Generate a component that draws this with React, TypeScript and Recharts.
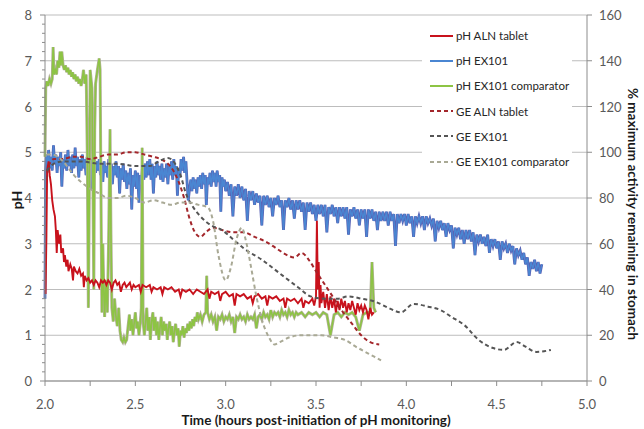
import { LineChart, Line, XAxis, YAxis, CartesianGrid, Legend, Label } from 'recharts';

type Pt = [number, number];

// hours post-initiation, pH
const phAlnTablet: Pt[] = [
  [2.003, 1.9], [2.008, 3.2], [2.012, 4.6], [2.02, 4.8], [2.026, 4.5], [2.033, 4.3], [2.04, 3.95],
  [2.047, 3.75], [2.055, 3.6], [2.06, 3.3], [2.065, 2.8], [2.07, 3.3], [2.078, 3.0], [2.085, 3.2],
  [2.09, 2.8], [2.1, 2.9], [2.105, 2.6], [2.11, 2.75], [2.118, 2.5], [2.125, 2.65], [2.13, 2.4],
  [2.14, 2.55], [2.148, 2.45], [2.155, 2.2], [2.16, 2.5], [2.17, 2.4], [2.18, 2.35], [2.19, 2.45],
  [2.2, 2.3], [2.21, 2.35], [2.215, 2.05], [2.22, 2.3], [2.23, 2.2], [2.24, 2.25], [2.25, 2.15],
  [2.26, 2.2], [2.27, 2.1], [2.28, 2.2], [2.29, 2.15], [2.3, 2.05], [2.31, 2.2], [2.32, 2.15],
  [2.33, 2.2], [2.34, 2.1], [2.35, 2.2], [2.36, 2.15], [2.37, 2.0], [2.38, 2.15], [2.39, 2.2],
  [2.4, 2.1], [2.41, 2.15], [2.42, 1.95], [2.43, 2.1], [2.44, 2.15], [2.45, 2.05], [2.46, 2.1],
  [2.47, 2.15], [2.48, 2.0], [2.49, 2.1], [2.5, 2.05], [2.52, 2.1], [2.53, 1.95], [2.54, 2.1],
  [2.56, 2.05], [2.58, 2.1], [2.59, 1.95], [2.6, 2.05], [2.62, 2.0], [2.64, 2.05], [2.65, 1.9],
  [2.66, 2.05], [2.68, 2.0], [2.7, 2.05], [2.72, 1.95], [2.74, 2.0], [2.75, 1.85], [2.76, 2.0],
  [2.78, 1.95], [2.8, 2.0], [2.82, 1.9], [2.84, 2.0], [2.86, 1.95], [2.88, 1.9], [2.9, 2.0],
  [2.91, 1.8], [2.92, 1.95], [2.94, 1.9], [2.96, 1.95], [2.97, 1.75], [2.98, 1.9], [3.0, 1.95],
  [3.02, 1.85], [3.04, 1.9], [3.05, 1.65], [3.06, 1.9], [3.08, 1.85], [3.1, 1.9], [3.12, 1.8],
  [3.14, 1.85], [3.15, 1.7], [3.16, 1.85], [3.18, 1.9], [3.2, 1.8], [3.22, 1.85], [3.23, 1.65],
  [3.24, 1.85], [3.26, 1.8], [3.28, 1.85], [3.3, 1.75], [3.32, 1.8], [3.33, 1.6], [3.34, 1.8],
  [3.36, 1.75], [3.38, 1.8], [3.4, 1.7], [3.42, 1.8], [3.43, 1.6], [3.44, 1.75], [3.46, 1.7],
  [3.48, 1.8], [3.49, 1.65], [3.5, 1.85], [3.505, 3.5], [3.51, 2.0], [3.515, 2.6], [3.52, 1.6],
  [3.525, 2.1], [3.53, 1.7], [3.54, 1.95], [3.55, 1.6], [3.56, 1.9], [3.57, 1.55], [3.58, 1.85],
  [3.59, 1.6], [3.6, 1.8], [3.61, 1.5], [3.62, 1.75], [3.63, 1.55], [3.64, 1.8], [3.65, 1.6],
  [3.66, 1.75], [3.67, 1.5], [3.68, 1.7], [3.69, 1.55], [3.7, 1.75], [3.71, 1.6], [3.72, 1.45],
  [3.73, 1.7], [3.74, 1.55], [3.75, 1.65], [3.76, 1.5], [3.77, 1.65], [3.78, 1.55], [3.79, 1.35],
  [3.8, 1.6], [3.81, 1.45], [3.82, 1.5],
];

const phEx101: Pt[] = [
  [2.0, 1.8], [2.003, 4.6], [2.008, 4.95], [2.015, 4.7], [2.02, 5.05], [2.027, 4.65], [2.033, 4.9],
  [2.04, 4.6], [2.047, 5.15], [2.053, 4.75], [2.06, 4.95], [2.067, 4.55], [2.073, 4.9], [2.08, 4.7],
  [2.087, 5.0], [2.093, 4.25], [2.1, 4.85], [2.107, 4.65], [2.113, 4.95], [2.12, 4.6], [2.127, 5.05],
  [2.133, 4.7], [2.14, 4.9], [2.147, 4.55], [2.153, 4.95], [2.16, 4.65], [2.167, 5.1], [2.173, 4.7],
  [2.18, 4.9], [2.187, 4.45], [2.193, 4.85], [2.2, 4.6], [2.207, 4.95], [2.213, 4.65], [2.22, 4.85],
  [2.227, 4.5], [2.233, 4.9], [2.24, 4.6], [2.247, 4.8], [2.253, 4.2], [2.26, 4.85], [2.267, 4.65],
  [2.273, 4.95], [2.28, 4.55], [2.287, 4.8], [2.293, 4.6], [2.3, 4.85], [2.307, 4.5], [2.313, 4.75],
  [2.32, 4.35], [2.327, 4.8], [2.333, 4.55], [2.34, 4.7], [2.347, 4.45], [2.353, 4.85], [2.36, 4.55],
  [2.367, 4.75], [2.373, 4.3], [2.38, 4.7], [2.387, 4.5], [2.393, 4.8], [2.4, 4.45], [2.407, 4.7],
  [2.413, 4.1], [2.42, 4.65], [2.427, 4.4], [2.433, 4.75], [2.44, 4.35], [2.447, 4.6], [2.453, 4.2],
  [2.46, 4.55], [2.467, 4.3], [2.473, 4.65], [2.48, 3.75], [2.487, 4.5], [2.493, 4.25], [2.5, 4.6],
  [2.507, 4.2], [2.513, 4.55], [2.52, 3.9], [2.527, 4.5], [2.533, 4.3], [2.54, 4.7], [2.547, 4.4],
  [2.553, 4.75], [2.56, 4.45], [2.567, 4.8], [2.573, 4.5], [2.58, 4.85], [2.587, 4.4], [2.593, 4.75],
  [2.6, 4.1], [2.607, 4.7], [2.613, 4.45], [2.62, 4.8], [2.627, 4.5], [2.633, 4.7], [2.64, 4.4],
  [2.647, 4.75], [2.653, 4.35], [2.66, 4.65], [2.667, 4.45], [2.673, 4.75], [2.68, 4.3], [2.687, 4.7],
  [2.693, 4.5], [2.7, 4.8], [2.707, 4.4], [2.713, 4.85], [2.72, 4.5], [2.727, 4.7], [2.733, 4.05],
  [2.74, 4.65], [2.747, 4.45], [2.753, 4.85], [2.76, 4.6], [2.767, 4.9], [2.773, 4.55], [2.78, 4.8],
  [2.787, 4.3], [2.793, 3.95], [2.8, 4.2], [2.807, 4.4], [2.813, 4.15], [2.82, 4.45], [2.827, 4.2],
  [2.833, 4.4], [2.84, 4.1], [2.847, 4.45], [2.853, 4.25], [2.86, 4.5], [2.867, 4.2], [2.873, 4.55],
  [2.88, 4.3], [2.887, 4.5], [2.893, 3.85], [2.9, 4.45], [2.907, 4.3], [2.913, 4.55], [2.92, 4.25],
  [2.927, 4.6], [2.933, 4.35], [2.94, 4.55], [2.947, 4.25], [2.953, 4.6], [2.96, 4.35], [2.967, 4.5],
  [2.973, 3.7], [2.98, 4.45], [2.987, 4.25], [2.993, 4.4], [3.0, 4.15], [3.01, 4.35], [3.02, 4.05],
  [3.03, 4.3], [3.04, 3.6], [3.05, 4.25], [3.06, 4.05], [3.07, 4.3], [3.08, 4.0], [3.09, 4.25],
  [3.1, 3.95], [3.11, 4.2], [3.12, 3.5], [3.13, 4.15], [3.14, 3.95], [3.15, 4.15], [3.16, 3.85],
  [3.17, 4.1], [3.18, 3.9], [3.19, 4.05], [3.2, 3.4], [3.21, 4.05], [3.22, 3.85], [3.23, 4.05],
  [3.24, 3.8], [3.25, 4.0], [3.26, 3.6], [3.27, 4.0], [3.28, 3.85], [3.29, 4.05], [3.3, 3.8],
  [3.31, 3.95], [3.32, 3.3], [3.33, 3.95], [3.34, 3.8], [3.35, 4.0], [3.36, 3.75], [3.37, 3.95],
  [3.38, 3.55], [3.39, 3.95], [3.4, 3.75], [3.41, 3.95], [3.42, 3.7], [3.43, 3.9], [3.44, 3.3],
  [3.45, 3.9], [3.46, 3.7], [3.47, 3.9], [3.48, 3.65], [3.49, 3.85], [3.5, 3.5], [3.51, 3.85],
  [3.52, 3.65], [3.53, 3.85], [3.54, 3.6], [3.55, 3.85], [3.56, 3.25], [3.57, 3.8], [3.58, 3.65],
  [3.59, 3.85], [3.6, 3.6], [3.61, 3.8], [3.62, 3.45], [3.63, 3.8], [3.64, 3.6], [3.65, 3.8],
  [3.66, 3.55], [3.67, 3.8], [3.68, 3.2], [3.69, 3.75], [3.7, 3.6], [3.71, 3.8], [3.72, 3.55],
  [3.73, 3.75], [3.74, 3.4], [3.75, 3.75], [3.76, 3.55], [3.77, 3.75], [3.78, 3.15], [3.79, 3.75],
  [3.8, 3.55], [3.81, 3.75], [3.82, 3.5], [3.83, 3.7], [3.84, 3.3], [3.85, 3.7], [3.86, 3.5],
  [3.87, 3.7], [3.88, 3.5], [3.89, 3.7], [3.9, 3.4], [3.91, 3.7], [3.92, 3.5], [3.93, 3.65],
  [3.94, 2.95], [3.95, 3.65], [3.96, 3.45], [3.97, 3.65], [3.98, 3.5], [3.99, 3.65], [4.0, 3.4],
  [4.01, 3.65], [4.02, 3.45], [4.03, 3.6], [4.04, 3.15], [4.05, 3.6], [4.06, 3.45], [4.07, 3.6],
  [4.08, 3.45], [4.09, 3.6], [4.1, 3.3], [4.11, 3.6], [4.12, 3.45], [4.13, 3.55], [4.14, 3.4],
  [4.15, 3.55], [4.16, 3.05], [4.17, 3.5], [4.18, 3.35], [4.19, 3.5], [4.2, 3.3], [4.21, 3.45],
  [4.22, 3.15], [4.23, 3.45], [4.24, 3.3], [4.25, 3.4], [4.26, 2.9], [4.27, 3.35], [4.28, 3.2],
  [4.29, 3.35], [4.3, 3.1], [4.31, 3.3], [4.32, 3.0], [4.33, 3.3], [4.34, 3.1], [4.35, 3.3],
  [4.36, 3.05], [4.37, 3.25], [4.38, 2.75], [4.39, 3.2], [4.4, 3.05], [4.41, 3.2], [4.42, 3.0],
  [4.43, 3.15], [4.44, 2.95], [4.45, 3.2], [4.46, 2.8], [4.47, 3.1], [4.48, 2.95], [4.49, 3.1],
  [4.5, 2.9], [4.51, 3.05], [4.52, 2.65], [4.53, 3.05], [4.54, 2.9], [4.55, 3.0], [4.56, 2.8],
  [4.57, 3.0], [4.58, 2.85], [4.59, 2.95], [4.6, 2.55], [4.61, 2.9], [4.62, 2.75], [4.63, 2.85],
  [4.64, 2.65], [4.65, 2.8], [4.66, 2.55], [4.67, 2.7], [4.68, 2.3], [4.69, 2.6], [4.7, 2.45],
  [4.71, 2.65], [4.72, 2.4], [4.73, 2.6], [4.74, 2.35], [4.75, 2.55],
];

const phEx101Comparator: Pt[] = [
  [2.0, 4.9], [2.004, 6.4], [2.01, 6.55], [2.017, 6.45], [2.025, 6.6], [2.033, 6.5], [2.04, 6.6],
  [2.045, 7.3], [2.05, 6.7], [2.057, 6.8], [2.064, 6.7], [2.07, 7.0], [2.077, 6.85], [2.083, 7.2],
  [2.088, 6.9], [2.093, 7.2], [2.1, 6.9], [2.107, 6.8], [2.113, 6.9], [2.12, 6.75], [2.127, 6.85],
  [2.133, 6.7], [2.14, 6.8], [2.147, 6.65], [2.153, 6.75], [2.16, 6.6], [2.167, 6.7], [2.173, 6.55],
  [2.18, 6.65], [2.187, 6.5], [2.193, 6.6], [2.2, 6.45], [2.207, 6.6], [2.213, 6.8], [2.22, 6.5],
  [2.228, 6.7], [2.234, 5.0], [2.24, 1.6], [2.245, 4.0], [2.25, 6.8], [2.255, 6.6], [2.26, 6.4],
  [2.265, 4.5], [2.27, 2.0], [2.275, 5.5], [2.28, 6.5], [2.29, 6.8], [2.3, 7.05], [2.305, 6.8],
  [2.31, 4.0], [2.315, 1.5], [2.32, 3.0], [2.325, 2.0], [2.33, 1.4], [2.337, 2.2], [2.345, 1.5],
  [2.352, 3.0], [2.36, 5.5], [2.365, 3.2], [2.37, 1.6], [2.378, 1.3], [2.385, 1.8], [2.393, 1.4],
  [2.4, 1.2], [2.408, 1.6], [2.415, 1.1], [2.422, 0.9], [2.43, 0.85], [2.437, 0.95], [2.445, 0.85],
  [2.452, 0.9], [2.46, 1.2], [2.467, 1.45], [2.473, 1.1], [2.48, 1.35], [2.487, 1.0], [2.493, 1.25],
  [2.5, 1.5], [2.507, 1.15], [2.513, 1.3], [2.52, 1.0], [2.527, 1.25], [2.533, 1.6], [2.538, 5.1],
  [2.543, 1.3], [2.55, 1.0], [2.557, 1.3], [2.563, 1.6], [2.57, 1.1], [2.577, 1.4], [2.583, 0.9],
  [2.59, 1.3], [2.597, 1.5], [2.603, 1.1], [2.61, 1.4], [2.617, 1.0], [2.623, 1.3], [2.63, 0.9],
  [2.637, 1.2], [2.643, 1.4], [2.65, 1.0], [2.657, 1.3], [2.663, 1.1], [2.67, 1.25], [2.677, 0.9],
  [2.683, 1.15], [2.69, 1.3], [2.697, 1.0], [2.703, 1.2], [2.71, 0.85], [2.717, 1.1], [2.723, 1.25],
  [2.73, 1.0], [2.737, 1.15], [2.743, 0.75], [2.75, 1.1], [2.757, 1.0], [2.763, 1.2], [2.77, 0.95],
  [2.777, 1.15], [2.783, 1.05], [2.79, 1.25], [2.797, 1.1], [2.803, 1.3], [2.81, 1.15], [2.817, 1.35],
  [2.823, 1.2], [2.83, 1.4], [2.837, 1.3], [2.843, 1.5], [2.85, 1.35], [2.86, 1.45], [2.87, 1.3],
  [2.88, 1.45], [2.89, 1.5], [2.895, 2.3], [2.9, 1.5], [2.91, 1.35], [2.92, 1.45], [2.93, 1.3],
  [2.94, 1.4], [2.95, 1.1], [2.96, 1.4], [2.97, 1.35], [2.98, 1.45], [2.99, 1.3], [3.0, 1.4],
  [3.01, 1.35], [3.02, 1.45], [3.03, 1.3], [3.04, 1.4], [3.05, 1.05], [3.06, 1.4], [3.07, 1.35],
  [3.08, 1.45], [3.09, 1.35], [3.1, 1.4], [3.11, 1.3], [3.12, 1.45], [3.13, 1.35], [3.14, 1.4],
  [3.15, 1.35], [3.16, 1.45], [3.17, 1.15], [3.18, 1.4], [3.19, 1.45], [3.2, 1.35], [3.21, 1.5],
  [3.22, 1.4], [3.23, 1.45], [3.24, 1.35], [3.25, 1.55], [3.26, 1.4], [3.27, 1.5], [3.28, 1.45],
  [3.29, 1.5], [3.3, 1.4], [3.31, 1.55], [3.32, 1.45], [3.33, 1.5], [3.34, 1.4], [3.35, 1.55],
  [3.36, 1.45], [3.37, 1.5], [3.38, 1.4], [3.39, 1.5], [3.4, 1.45], [3.42, 1.5], [3.44, 1.4],
  [3.46, 1.5], [3.48, 1.45], [3.5, 1.5], [3.52, 1.4], [3.54, 1.5], [3.56, 1.45], [3.58, 1.0],
  [3.6, 1.45], [3.62, 1.5], [3.64, 1.4], [3.66, 1.5], [3.68, 1.45], [3.7, 1.5], [3.72, 1.4],
  [3.74, 1.1], [3.76, 1.45], [3.78, 1.5], [3.8, 1.5], [3.81, 2.6], [3.82, 1.6], [3.83, 1.5],
];

// hours post-initiation, % maximum activity remaining
const geAlnTablet: Pt[] = [
  [2.01, 88], [2.02, 94], [2.05, 97], [2.1, 97], [2.15, 98], [2.2, 98], [2.25, 97], [2.3, 98],
  [2.35, 99], [2.4, 99], [2.45, 100], [2.5, 100], [2.55, 99], [2.6, 98], [2.64, 97], [2.68, 95],
  [2.71, 92], [2.74, 87], [2.77, 80], [2.8, 71], [2.83, 65], [2.86, 63], [2.89, 65], [2.93, 67],
  [2.98, 66], [3.04, 65], [3.1, 65], [3.16, 63], [3.22, 61], [3.28, 58], [3.34, 55], [3.38, 54],
  [3.42, 56], [3.46, 53], [3.5, 48], [3.55, 42], [3.6, 36], [3.65, 30], [3.7, 25], [3.75, 20],
  [3.8, 17], [3.85, 16],
];

const geEx101: Pt[] = [
  [2.01, 92], [2.05, 95], [2.1, 96], [2.2, 96], [2.3, 95], [2.4, 95], [2.5, 94], [2.58, 94],
  [2.63, 96], [2.68, 97.5], [2.72, 95], [2.75, 90], [2.78, 82], [2.82, 76], [2.86, 72], [2.92, 68],
  [2.98, 66], [3.04, 62], [3.1, 58], [3.2, 53], [3.3, 47], [3.4, 41], [3.47, 37], [3.55, 36],
  [3.62, 36], [3.68, 37], [3.75, 36], [3.83, 34.6], [3.9, 32], [3.97, 30], [4.04, 33.7],
  [4.12, 32.5], [4.19, 31], [4.25, 28], [4.32, 24.5], [4.4, 18], [4.48, 14.4], [4.54, 13.6],
  [4.61, 17], [4.66, 15], [4.72, 12.7], [4.8, 13.6],
];

const geEx101Comparator: Pt[] = [
  [2.01, 99], [2.04, 99], [2.07, 98], [2.1, 96], [2.13, 93], [2.16, 90], [2.2, 87], [2.25, 84],
  [2.3, 82], [2.35, 80], [2.4, 80], [2.45, 81], [2.5, 80], [2.55, 78], [2.6, 79], [2.65, 78],
  [2.7, 77], [2.75, 78], [2.8, 78], [2.85, 77], [2.9, 76], [2.93, 70], [2.96, 55], [3.0, 44],
  [3.03, 50], [3.06, 62], [3.09, 67], [3.11, 62], [3.14, 50], [3.17, 37], [3.2, 27], [3.24, 19],
  [3.27, 16], [3.3, 17], [3.35, 19], [3.42, 20], [3.53, 20], [3.6, 19], [3.66, 18], [3.72, 15],
  [3.79, 12], [3.86, 9],
];

const seriesNames = [
  'pH ALN tablet',
  'pH EX101',
  'pH EX101 comparator',
  'GE ALN tablet',
  'GE EX101',
  'GE EX101 comparator',
];

const timeTicks = [2, 2.25, 2.5, 2.75, 3, 3.25, 3.5, 3.75, 4, 4.25, 4.5, 4.75, 5];
const phTicks = Array.from({ length: 41 }, (_, i) => Math.round(i * 2) / 10);
const geTicks = [0, 20, 40, 60, 80, 100, 120, 140, 160];

const toPoints = (pts: Pt[]) => pts.map(([x, y]) => ({ x, y }));

const FONT = 'Lato, "Open Sans", sans-serif';
const LEFT = 45;
const RIGHT = 587;
const TOP = 15;
const BOTTOM = 381;
const AXIS = '#8c8c8c';
const TICK_TEXT = '#595959';

const styles = [
  { color: '#c8121c', dash: undefined },
  { color: '#4a86d2', dash: undefined },
  { color: '#8dc444', dash: undefined },
  { color: '#a3262b', dash: '4 3' },
  { color: '#555555', dash: '4 3' },
  { color: '#a9a995', dash: '4 3' },
];

function XTick(props: any) {
  const { payload } = props;
  const v = payload.value as number;
  const cx = payload.coordinate;
  const major = Math.abs(v * 2 - Math.round(v * 2)) < 1e-6;
  return (
    <g>
      <line x1={cx} x2={cx} y1={BOTTOM} y2={BOTTOM + 5} stroke={AXIS} />
      {major && (
        <text x={cx} y={404} textAnchor="middle" dominantBaseline="central" fill={TICK_TEXT} fontSize={13} fontFamily={FONT}>
          {v.toFixed(1)}
        </text>
      )}
    </g>
  );
}

function PhTick(props: any) {
  const { payload } = props;
  const v = payload.value as number;
  const cy = payload.coordinate;
  const major = Math.abs(v - Math.round(v)) < 1e-6;
  return (
    <g>
      <line x1={LEFT - (major ? 5 : 3)} x2={LEFT} y1={cy} y2={cy} stroke={AXIS} />
      {major && (
        <text x={LEFT - 13} y={cy} textAnchor="end" dominantBaseline="central" fill={TICK_TEXT} fontSize={13} fontFamily={FONT}>
          {v}
        </text>
      )}
    </g>
  );
}

function GeTick(props: any) {
  const { payload } = props;
  const cy = payload.coordinate;
  return (
    <g>
      <line x1={RIGHT} x2={RIGHT + 5} y1={cy} y2={cy} stroke={AXIS} />
      <text x={RIGHT + 12} y={cy} textAnchor="start" dominantBaseline="central" fill={TICK_TEXT} fontSize={13} fontFamily={FONT}>
        {payload.value}
      </text>
    </g>
  );
}

function LegendBox() {
  return (
    <div style={{ background: '#fff', width: 150, height: 154, paddingTop: 1, boxSizing: 'border-box' }}>
      {seriesNames.map((name, i) => (
        <div key={name} style={{ display: 'flex', alignItems: 'center', height: 25.2 }}>
          <svg width={34} height={6} style={{ flex: 'none' }}>
            <line
              x1={8}
              x2={31}
              y1={3}
              y2={3}
              stroke={styles[i].color}
              strokeWidth={2}
              strokeDasharray={styles[i].dash}
            />
          </svg>
          <span style={{ fontFamily: FONT, fontSize: 11.5, color: '#262626', whiteSpace: 'nowrap' }}>{name}</span>
        </div>
      ))}
    </div>
  );
}

export default function App() {
  return (
    <div style={{ width: 644, height: 429 }}>
      <style>{'html,body{margin:0;padding:0;overflow:hidden}'}</style>
      <LineChart width={644} height={429} margin={{ top: TOP, right: 0, bottom: 0, left: 0 }}>
        <CartesianGrid yAxisId="ge" vertical={false} stroke="#bdbdbd" />
        <XAxis
          dataKey="x"
          type="number"
          domain={[2, 5]}
          ticks={timeTicks}
          interval={0}
          height={429 - BOTTOM}
          stroke={AXIS}
          tickLine={false}
          tick={XTick}
          allowDuplicatedCategory={false}
        >
          <Label
            content={() => (
              <text x={(LEFT + RIGHT) / 2} y={420} textAnchor="middle" dominantBaseline="central" fontFamily={FONT} fontWeight="bold" fontSize={13.5} fill="#1a1a1a">
                Time (hours post-initiation of pH monitoring)
              </text>
            )}
          />
        </XAxis>
        <YAxis
          yAxisId="ph"
          type="number"
          domain={[0, 8]}
          ticks={phTicks}
          interval={0}
          width={LEFT}
          stroke={AXIS}
          tickLine={false}
          tick={PhTick}
        >
          <Label
            content={() => (
              <text x={16} y={200} transform="rotate(-90 16 200)" textAnchor="middle" dominantBaseline="central" fontFamily={FONT} fontWeight="bold" fontSize={14} fill="#1a1a1a">
                pH
              </text>
            )}
          />
        </YAxis>
        <YAxis
          yAxisId="ge"
          orientation="right"
          type="number"
          domain={[0, 160]}
          ticks={geTicks}
          interval={0}
          width={644 - RIGHT}
          stroke={AXIS}
          tickLine={false}
          tick={GeTick}
        >
          <Label
            content={() => (
              <text x={633} y={214} transform="rotate(90 633 214)" textAnchor="middle" dominantBaseline="central" fontFamily={FONT} fontWeight="bold" fontSize={13.5} fill="#1a1a1a">
                % maximum activity remaining in stomach
              </text>
            )}
          />
        </YAxis>
        <Legend
          layout="vertical"
          align="center"
          verticalAlign="middle"
          content={() => <LegendBox />}
          wrapperStyle={{ left: 422, top: 22, bottom: 'auto', width: 150, height: 154 }}
        />
        <Line yAxisId="ph" data={toPoints(phEx101)} dataKey="y" name="ex101-shadow" stroke="#5a62b4" strokeWidth={2.8} dot={false} type="linear" legendType="none" isAnimationActive={false} />
        <Line yAxisId="ph" data={toPoints(phEx101)} dataKey="y" name={seriesNames[1]} stroke={styles[1].color} strokeWidth={1.4} dot={false} type="linear" isAnimationActive={false} />
        <Line yAxisId="ph" data={toPoints(phEx101Comparator)} dataKey="y" name="cmp-shadow" stroke="#b3b19b" strokeWidth={3} dot={false} type="linear" legendType="none" isAnimationActive={false} />
        <Line yAxisId="ph" data={toPoints(phEx101Comparator)} dataKey="y" name={seriesNames[2]} stroke={styles[2].color} strokeWidth={1.6} dot={false} type="linear" isAnimationActive={false} />
        <Line yAxisId="ph" data={toPoints(phAlnTablet)} dataKey="y" name={seriesNames[0]} stroke={styles[0].color} strokeWidth={1.9} dot={false} type="linear" isAnimationActive={false} />
        <Line yAxisId="ge" data={toPoints(geAlnTablet)} dataKey="y" name={seriesNames[3]} stroke={styles[3].color} strokeWidth={2} strokeDasharray={styles[3].dash} dot={false} type="monotone" isAnimationActive={false} />
        <Line yAxisId="ge" data={toPoints(geEx101)} dataKey="y" name={seriesNames[4]} stroke={styles[4].color} strokeWidth={2} strokeDasharray={styles[4].dash} dot={false} type="monotone" isAnimationActive={false} />
        <Line yAxisId="ge" data={toPoints(geEx101Comparator)} dataKey="y" name={seriesNames[5]} stroke={styles[5].color} strokeWidth={2} strokeDasharray={styles[5].dash} dot={false} type="monotone" isAnimationActive={false} />
      </LineChart>
    </div>
  );
}
